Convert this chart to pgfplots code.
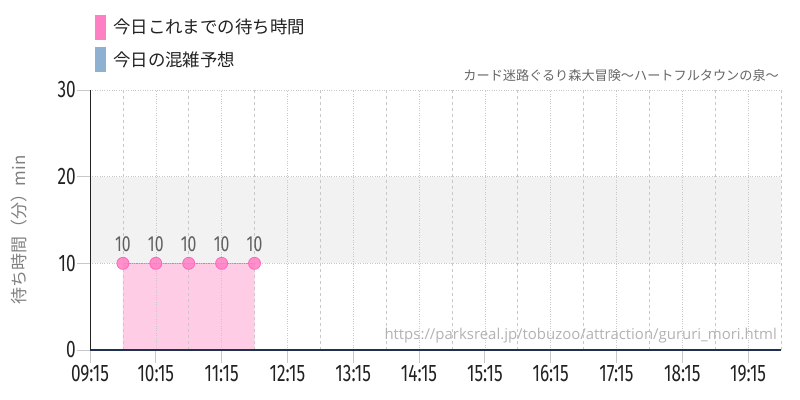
\documentclass[border=0pt]{standalone}
\usepackage{pgfplots}
\pgfplotsset{compat=1.18}
\usepackage{fontspec}
\setmainfont{Noto Sans CJK JP}
\newfontfamily\cjk{Noto Sans CJK JP}
\newfontfamily\cond{Fira Sans}[FakeStretch=0.72]
\newfontfamily\urlfont{Open Sans}
\definecolor{pinkm}{HTML}{FF7FC4}
\definecolor{pinkfill}{HTML}{FFCCE6}
\definecolor{pinkline}{HTML}{FF66BB}
\definecolor{blueleg}{HTML}{8EB1D2}
\definecolor{band}{HTML}{F2F2F2}
\definecolor{tickc}{HTML}{222222}
\definecolor{gridc}{HTML}{C8C8C8}
\definecolor{navy}{HTML}{1F3050}
\begin{document}
\begin{tikzpicture}
\path[use as bounding box] (-90bp,-50bp) rectangle (710bp,350bp);
\begin{axis}[
  scale only axis, width=691bp, height=260bp,
  xmin=9.25, xmax=19.75, ymin=0, ymax=30,
  axis on top,
  axis x line*=bottom, axis y line*=left,
  x axis line style={navy, line width=1.3bp},
  y axis line style={tickc, line width=0.8bp},
  xtick={9.25,10.25,...,19.25},
  xticklabels={09:15,10:15,11:15,12:15,13:15,14:15,15:15,16:15,17:15,18:15,19:15},
  minor xtick={9.75,10.75,...,19.75},
  ytick={0,10,20,30},
  tick align=outside,
  major tick length=13bp,
  minor tick length=0bp,
  tick style={gridc, line width=0.8bp},
  xmajorgrids, xminorgrids, ymajorgrids,
  major grid style={gridc, dotted, line width=0.6bp},
  minor grid style={gridc, dashed, line width=0.6bp},
  /pgf/number format/assume math mode=true,
  xticklabel style={font=\cond\fontsize{24}{24}\selectfont, text=tickc, inner sep=1bp, yshift=-1bp},
  yticklabel style={font=\cond\fontsize{24}{24}\selectfont, text=tickc, inner sep=1bp},
  clip=false,
]
\addplot[fill=band, draw=none] coordinates {(9.25,10) (19.75,10) (19.75,20) (9.25,20)} -- cycle;
\addplot[fill=pinkfill, draw=none] coordinates {(9.75,10) (10.25,10) (10.75,10) (11.25,10) (11.75,10)} \closedcycle;
\addplot[pinkline, line width=0.8bp, mark=*, mark size=6bp,
  mark options={draw=none, fill=pinkm, fill opacity=0.85},
  nodes near coords,
  every node near coord/.append style={font=\cond\fontsize{22}{22}\selectfont, text=black!72, anchor=south, inner sep=0pt, yshift=11bp, /pgf/number format/assume math mode=true}]
  coordinates {(9.75,10) (10.25,10) (10.75,10) (11.25,10) (11.75,10)};
\end{axis}
% legend
\fill[pinkm] (5bp,310bp) rectangle (16bp,335bp);
\node[anchor=west, inner sep=0, text=tickc, font=\cjk\fontsize{17.5}{18}\selectfont] at (23bp,323bp) {今日これまでの待ち時間};
\fill[blueleg] (5bp,278bp) rectangle (16bp,303bp);
\node[anchor=west, inner sep=0, text=tickc, font=\cjk\fontsize{17.5}{18}\selectfont] at (23bp,290bp) {今日の混雑予想};
% title
\node[anchor=east, inner sep=0, text=black!60, font=\cjk\fontsize{13.2}{14}\selectfont] at (689bp,274bp) {カード迷路ぐるり森大冒険～ハートフルタウンの泉～};
% y label
\node[rotate=90, inner sep=0, text=black!50, font=\cjk\fontsize{17}{17}\selectfont] at (-71bp,120bp) {待ち時間（分）min};
% url
\node[anchor=east, inner sep=0, text=black!30, font=\urlfont\fontsize{15}{15}\selectfont] at (687bp,14bp) {https://parksreal.jp/tobuzoo/attraction/gururi\_mori.html};
\end{tikzpicture}
\end{document}
